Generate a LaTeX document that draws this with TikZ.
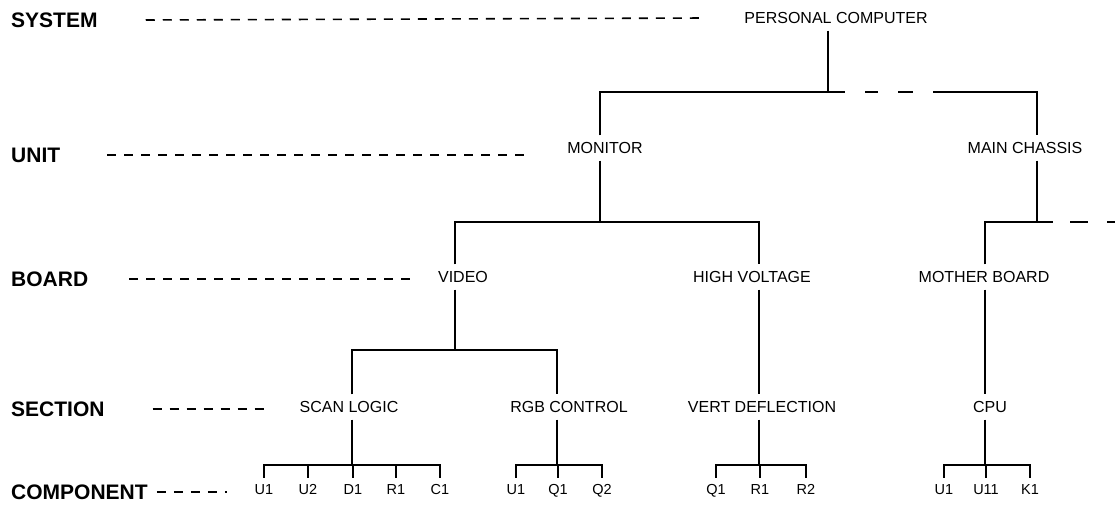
\documentclass[tikz,border=0pt]{standalone}
\usepackage{fontspec}
\setmainfont{Liberation Sans}
\begin{document}
\begin{tikzpicture}[x=1pt,y=-1pt,
  conn/.style={line width=2pt},
  lead/.style={line width=1.6pt, dash pattern=on 9pt off 8pt},
  lvl/.style={anchor=west, inner sep=0pt, text depth=0pt, font=\fontsize{21}{23}\selectfont\bfseries},
  item/.style={inner xsep=0pt, inner ysep=0pt, text height=11.5pt, text depth=0pt, minimum height=25pt, font=\fontsize{16}{18}\selectfont},
  comp/.style={inner xsep=0pt, inner ysep=0pt, text height=10.5pt, text depth=0pt, minimum height=22pt, font=\fontsize{14.5}{16}\selectfont}
]
\useasboundingbox (0,0) rectangle (1115,507);

% level labels
\node[lvl] (sys) at (11,20) {SYSTEM};
\node[lvl] (unit) at (11,155) {UNIT};
\node[lvl] (board) at (11,279) {BOARD};
\node[lvl] (section) at (11,409) {SECTION};
\node[lvl] (component) at (11,492) {COMPONENT};

% line x positions and bracket levels
\coordinate (xPC) at (828,0);
\coordinate (xMON) at (600,0);
\coordinate (xMC) at (1037,0);
\coordinate (xVID) at (455,0);
\coordinate (xHV) at (759,0);
\coordinate (xMB) at (985,0);
\coordinate (xSC) at (352,0);
\coordinate (xRGB) at (557,0);
\coordinate (yA) at (0,92);
\coordinate (yB) at (0,222);
\coordinate (yC) at (0,350);
\coordinate (yD) at (0,465);
\coordinate (offR) at (1115,222);

% items
\node[item] (pc) at (836,18) {PERSONAL COMPUTER};
\node[item] (mon) at (605,148) {MONITOR};
\node[item] (mc) at (1025,148) {MAIN CHASSIS};
\node[item] (video) at (463,277) {VIDEO};
\node[item] (hv) at (752,277) {HIGH VOLTAGE};
\node[item] (mb) at (984,277) {MOTHER BOARD};
\node[item] (scan) at (349,407) {SCAN LOGIC};
\node[item] (rgb) at (569,407) {RGB CONTROL};
\node[item] (vd) at (762,407) {VERT DEFLECTION};
\node[item] (cpu) at (990,407) {CPU};

% components
\node[comp] (a1) at (264,489) {U1};
\node[comp] (a2) at (308,489) {U2};
\node[comp] (a3) at (353,489) {D1};
\node[comp] (a4) at (396,489) {R1};
\node[comp] (a5) at (440,489) {C1};
\node[comp] (b1) at (516,489) {U1};
\node[comp] (b2) at (558,489) {Q1};
\node[comp] (b3) at (602,489) {Q2};
\node[comp] (c1) at (716,489) {Q1};
\node[comp] (c2) at (760,489) {R1};
\node[comp] (c3) at (806,489) {R2};
\node[comp] (d1) at (944,489) {U1};
\node[comp] (d2) at (986,489) {U11};
\node[comp] (d3) at (1030,489) {K1};

% leader lines
\draw[lead] ([xshift=48]sys.east) -- ([xshift=-39]pc.west);
\draw[lead] ([xshift=47]unit.east) -- ([xshift=-35]mon.west |- unit.east);
\draw[lead] ([xshift=41]board.east) -- ([xshift=-24]video.west |- board.east);
\draw[lead] ([xshift=48]section.east) -- ([xshift=-30]scan.west |- section.east);
\draw[lead] ([xshift=9]component.east) -- ([xshift=-28]a1.west |- component.east);

% system -> units
\draw[conn] (xPC |- pc.south) -- (xPC |- yA);
\draw[conn] (xMON |- mon.north) -- (xMON |- yA) -- (xPC |- yA);
\draw[conn, dash pattern=on 17pt off 20pt on 13pt off 20pt on 15pt off 20pt on 300pt]
  (xPC |- yA) -- (xMC |- yA) -- (xMC |- mc.north);

% monitor -> boards
\draw[conn] (xMON |- mon.south) -- (xMON |- yB);
\draw[conn] (xVID |- video.north) -- (xVID |- yB) -- (xHV |- yB) -- (xHV |- hv.north);

% main chassis -> mother board
\draw[conn] (xMC |- mc.south) -- (xMC |- yB);
\draw[conn] (xMB |- mb.north) -- (xMB |- yB) -- (xMC |- yB);
\draw[conn, dash pattern=on 16pt off 17pt on 18pt off 19pt on 20pt] (xMC |- yB) -- (offR);

% boards -> sections
\draw[conn] (xVID |- video.south) -- (xVID |- yC);
\draw[conn] (xSC |- scan.north) -- (xSC |- yC) -- (xRGB |- yC) -- (xRGB |- rgb.north);
\draw[conn] (xHV |- hv.south) -- (xHV |- vd.north);
\draw[conn] (xMB |- mb.south) -- (xMB |- cpu.north);

% sections -> components
\draw[conn] (xSC |- scan.south) -- (xSC |- yD);
\draw[conn] (a1.north) -- (a1.north |- yD) -- (a5.north |- yD) -- (a5.north);
\draw[conn] (a2.north) -- (a2.north |- yD);
\draw[conn] (a3.north) -- (a3.north |- yD);
\draw[conn] (a4.north) -- (a4.north |- yD);

\draw[conn] (xRGB |- rgb.south) -- (xRGB |- yD);
\draw[conn] (b1.north) -- (b1.north |- yD) -- (b3.north |- yD) -- (b3.north);
\draw[conn] (b2.north) -- (b2.north |- yD);

\draw[conn] (xHV |- vd.south) -- (xHV |- yD);
\draw[conn] (c1.north) -- (c1.north |- yD) -- (c3.north |- yD) -- (c3.north);
\draw[conn] (c2.north) -- (c2.north |- yD);

\draw[conn] (xMB |- cpu.south) -- (xMB |- yD);
\draw[conn] (d1.north) -- (d1.north |- yD) -- (d3.north |- yD) -- (d3.north);
\draw[conn] (d2.north) -- (d2.north |- yD);
\end{tikzpicture}
\end{document}
